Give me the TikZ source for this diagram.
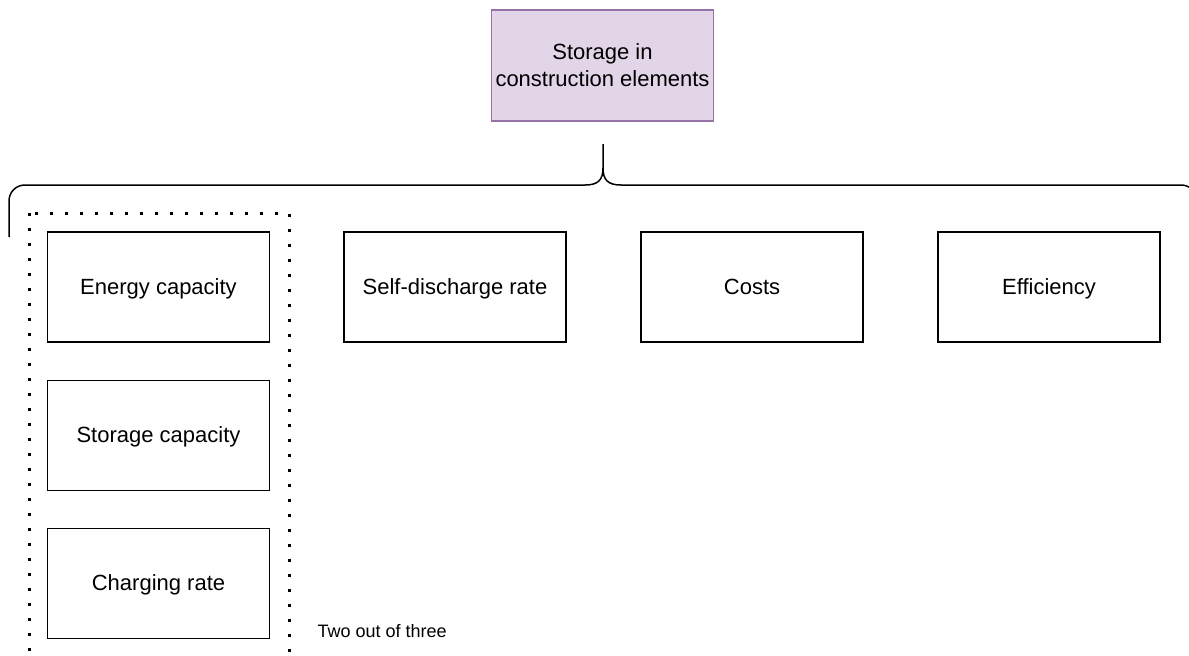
\documentclass[tikz,border=0pt]{standalone}
\usepackage{fontspec}
\setmainfont{Liberation Sans}
\definecolor{topfill}{HTML}{E1D5E7}
\definecolor{topdraw}{HTML}{9673A6}
\begin{document}
\begin{tikzpicture}[x=1pt,y=-1pt,
  criterion/.style={draw=black, line width=1.5pt, fill=white,
    minimum width=222pt, minimum height=110pt, inner sep=0pt,
    text height=18pt, text depth=4pt,
    font=\fontsize{22}{26}\selectfont, align=center},
  topbox/.style={draw=topdraw, line width=1.5pt, fill=topfill,
    minimum width=222pt, minimum height=111pt, inner sep=0pt,
    font=\fontsize{22}{27}\selectfont, align=center},
  bracket/.style={draw=black, line width=1.5pt},
  group/.style={draw=black, line width=3pt, dash pattern=on 3pt off 12pt}
]
\useasboundingbox (0,0) rectangle (1189,656);
\begin{scope}
\clip (0,0) rectangle (1189,656);

% root
\node[topbox] (root) at (602.5,65.5) {Storage in\\construction elements};

% curly bracket under the root
\draw[bracket] (9,237) -- (9,201)
  .. controls (9,192) and (16,185) .. (25,185)
  -- (585,185) .. controls (598,185) and (603,180) .. (603,168)
  -- (603,144);
\draw[bracket] (603,168) .. controls (603,180) and (608,185) .. (621,185)
  -- (1181,185) .. controls (1190,185) and (1197,192) .. (1197,201)
  -- (1197,237);

% dotted group around the three alternatives
\draw[group] (29,213) rectangle (289,700);
\node[font=\fontsize{18}{22}\selectfont, anchor=west] (note) at (314,631) {Two out of three};

% criteria
\node[criterion] (energy)  at (158.5,287) {Energy capacity};
\node[criterion] (storage) at (158.5,435.5) {Storage capacity};
\node[criterion] (charge)  at (158.5,583.5) {Charging rate};
\node[criterion] (selfdis) at (455,287) {Self-discharge rate};
\node[criterion] (costs)   at (752,287) {Costs};
\node[criterion] (eff)     at (1049,287) {Efficiency};
\end{scope}
\end{tikzpicture}
\end{document}
